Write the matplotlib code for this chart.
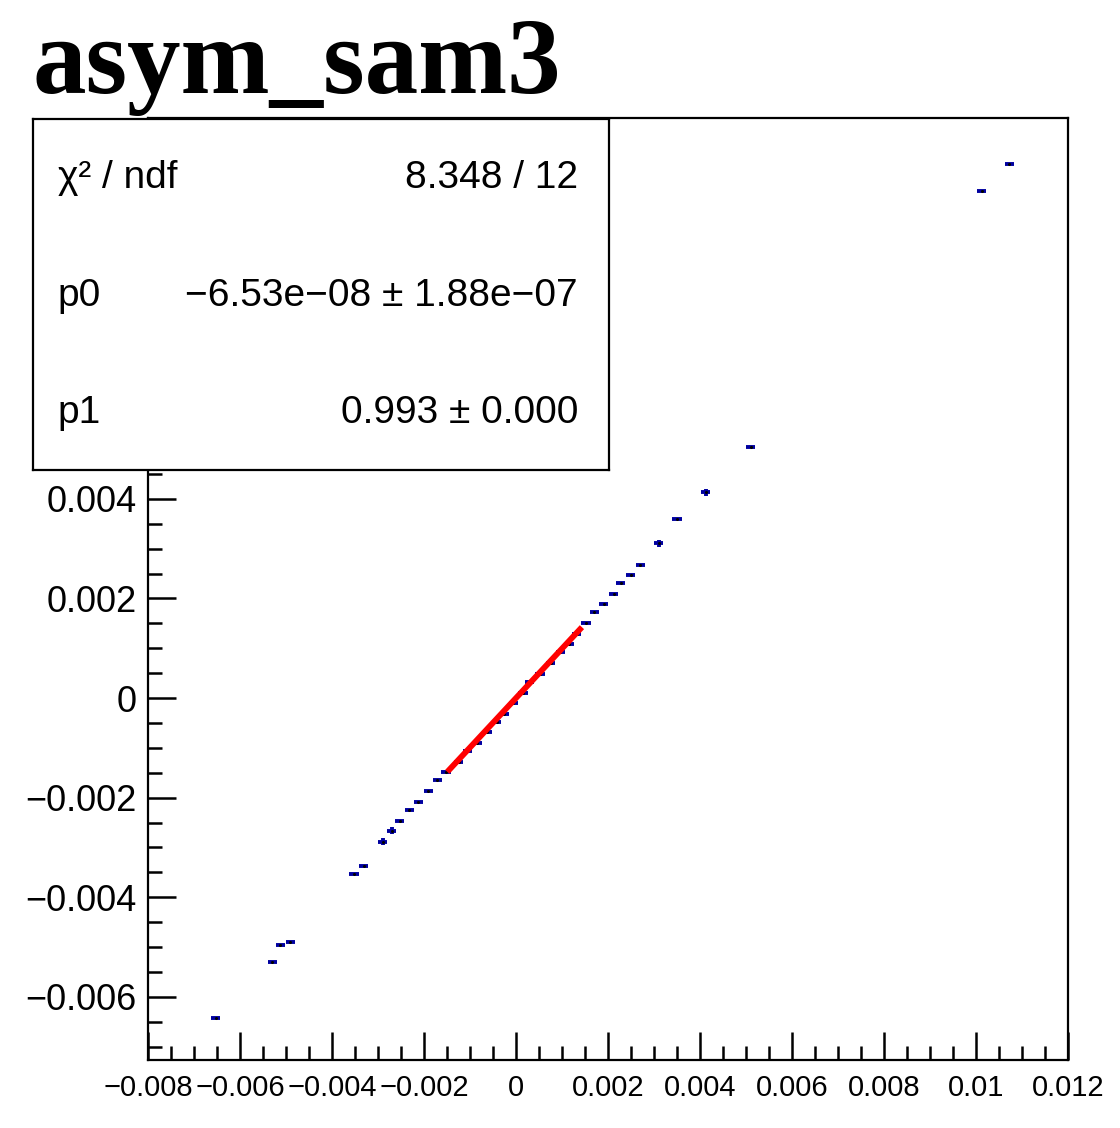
import numpy as np
import matplotlib
matplotlib.use("Agg")
import matplotlib.pyplot as plt
import matplotlib.ticker as mticker

# graph points (x, y) with errors
x_vals = [-0.00653, -0.0053, -0.00512, -0.00491, -0.00352, -0.00331, -0.0029, -0.0027,
          -0.00253, -0.00232, -0.00212, -0.00191, -0.00171, -0.00152, -0.00125, -0.00106,
          -0.00085, -0.00062, -0.00042, -0.00026, -0.00006, 0.00015, 0.0003, 0.00052,
          0.00075, 0.00096, 0.00116, 0.00132, 0.00152, 0.0017, 0.00191, 0.00212,
          0.00228, 0.00249, 0.0027, 0.0031, 0.0035, 0.00412, 0.0051, 0.01012, 0.01072]
y_vals = [-0.00642, -0.0053, -0.00497, -0.00491, -0.00353, -0.00337, -0.00289, -0.00267,
          -0.00246, -0.00224, -0.00208, -0.00187, -0.00165, -0.00149, -0.00128, -0.00106,
          -0.0009, -0.00069, -0.00048, -0.00032, -0.0001, 0.00011, 0.00033, 0.00049,
          0.0007, 0.00092, 0.00108, 0.00129, 0.00151, 0.00172, 0.00188, 0.00209,
          0.00231, 0.00247, 0.00268, 0.00311, 0.00359, 0.00413, 0.00504, 0.01018, 0.01072]
x_errs = [0.0001] * len(x_vals)
y_errs = [0.00002] * len(y_vals)
for i in (6, 7, 35, 37):
    y_errs[i] = 0.00007

# pol1 fit
fit_p0 = -6.53e-08
fit_p1 = 0.993
fit_range = [-0.00145, 0.00139]

title = "asym_sam3"
stat_rows = [("χ² / ndf", "8.348 / 12"),
             ("p0", "−6.53e−08 ± 1.88e−07"),
             ("p1", "0.993 ± 0.000")]

W, H = 1120, 1128
plt.rcParams["font.family"] = ["Liberation Sans", "DejaVu Sans"]
fig = plt.figure(figsize=(W / 100, H / 100), dpi=100)

ax = fig.add_axes([148 / W, 1 - 1060 / H, 920 / W, 942 / H])
ax.errorbar(x_vals, y_vals, xerr=x_errs, yerr=y_errs, fmt="none",
            ecolor="#0000a0", elinewidth=2.8, capsize=0, zorder=2)
ax.plot(x_vals, y_vals, "o", color="black", markersize=1.2, zorder=3)

fx = np.linspace(fit_range[0], fit_range[1], 50)
ax.plot(fx, fit_p0 + fit_p1 * fx, color="red", linewidth=4.2, zorder=4)

ax.set_xlim(-0.008, 0.012)
ax.set_ylim(-0.00727, 0.01165)
ax.xaxis.set_major_locator(mticker.MultipleLocator(0.002))
ax.xaxis.set_minor_locator(mticker.MultipleLocator(0.0005))
ax.yaxis.set_major_locator(mticker.MultipleLocator(0.002))
ax.yaxis.set_minor_locator(mticker.MultipleLocator(0.0005))


def _fmt(v, _):
    v = round(v, 6)
    if v == 0:
        return "0"
    return f"{v:g}".replace("-", "−")


def _yfmt(v, pos):
    # labels above 0.004 sit under the stats box
    if v > 0.0045:
        return ""
    return _fmt(v, pos)


ax.xaxis.set_major_formatter(mticker.FuncFormatter(_fmt))
ax.yaxis.set_major_formatter(mticker.FuncFormatter(_yfmt))
ax.tick_params(which="both", direction="in", top=False, right=False, width=1.8,
               labelsize=26, pad=8)
ax.tick_params(axis="x", labelsize=21, pad=10)
ax.tick_params(which="major", length=20)
ax.tick_params(which="minor", length=10)
for s in ax.spines.values():
    s.set_linewidth(1.6)

# stats box
sb = fig.add_axes([33 / W, 1 - 470 / H, 576 / W, 351 / H], zorder=10)
sb.set_xticks([])
sb.set_yticks([])
sb.set_facecolor("white")
for s in sb.spines.values():
    s.set_linewidth(1.6)
for (lab, val), yy in zip(stat_rows, [0.832, 0.496, 0.162]):
    sb.text(0.043, yy, lab, fontsize=28, ha="left", va="center")
    sb.text(0.946, yy, val, fontsize=28, ha="right", va="center")

fig.text(33 / W, 1 - 93 / H, title, fontsize=77, fontweight="bold",
         family="Liberation Serif", ha="left", va="baseline")

fig.savefig("out.png", dpi=100, facecolor="white")
